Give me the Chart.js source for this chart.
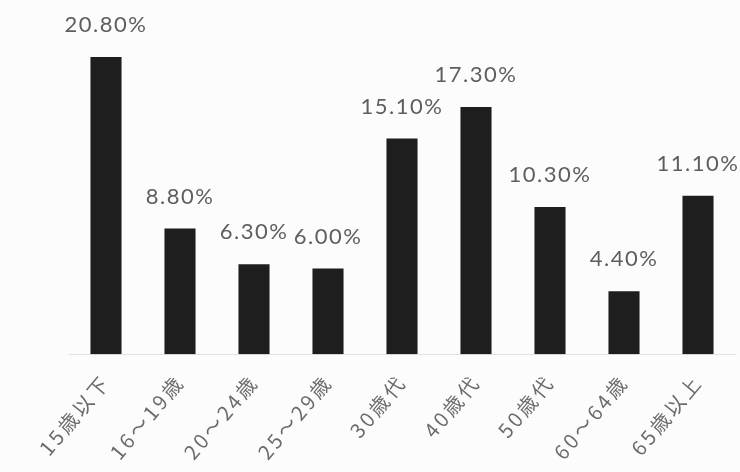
<!DOCTYPE html>
<html>
<head>
<meta charset="utf-8">
<script src="https://cdn.jsdelivr.net/npm/chart.js@4.4.0/dist/chart.umd.min.js"></script>
<style>
  html, body { margin: 0; padding: 0; background: #fcfcfc; }
  #wrap { width: 740px; height: 472px; }
</style>
</head>
<body>
<div id="wrap"><canvas id="chart" width="740" height="472"></canvas></div>
<script>
// age groups and their share (%)
const categories = ['15歳以下', '16～19歳', '20～24歳', '25～29歳', '30歳代', '40歳代', '50歳代', '60～64歳', '65歳以上'];
const shares = [20.8, 8.8, 6.3, 6.0, 15.1, 17.3, 10.3, 4.4, 11.1];

// wider spacing for the axis labels (set before measuring)
const tickSpacing = {
  id: 'tickSpacing',
  beforeUpdate(chart) { chart.ctx.letterSpacing = '3px'; },
  beforeDraw(chart) { chart.ctx.letterSpacing = '3px'; },
};

// value labels over each bar
const valueLabels = {
  id: 'valueLabels',
  afterDatasetsDraw(chart) {
    const ctx = chart.ctx;
    const meta = chart.getDatasetMeta(0);
    ctx.save();
    ctx.font = "22px 'Lato', sans-serif";
    ctx.letterSpacing = '1.5px';
    ctx.fillStyle = '#5e5e5e';
    ctx.textAlign = 'center';
    ctx.textBaseline = 'middle';
    meta.data.forEach((bar, i) => {
      ctx.fillText(shares[i].toFixed(2) + '%', bar.x, bar.y - 32);
    });
    ctx.restore();
  },
};

const ctx = document.getElementById('chart').getContext('2d');
new Chart(ctx, {
  type: 'bar',
  data: {
    labels: categories,
    datasets: [{
      data: shares,
      backgroundColor: '#1e1e1e',
      borderWidth: 0,
      barPercentage: 0.42,
      categoryPercentage: 1.0,
    }],
  },
  options: {
    responsive: false,
    animation: false,
    devicePixelRatio: 1,
    layout: { padding: { left: 69, right: 5, top: 0, bottom: 0 } },
    plugins: {
      legend: { display: false },
      tooltip: { enabled: false },
    },
    scales: {
      x: {
        grid: { display: false },
        border: { display: true, color: '#e2e2e2' },
        ticks: {
          color: '#6b6b6b',
          font: { family: "'Noto Sans CJK JP', sans-serif", size: 20 },
          minRotation: 50,
          maxRotation: 50,
          autoSkip: false,
          padding: 8,
        },
      },
      y: {
        display: false,
        min: 0,
        max: 24.8,
      },
    },
  },
  plugins: [tickSpacing, valueLabels],
});
</script>
</body>
</html>
